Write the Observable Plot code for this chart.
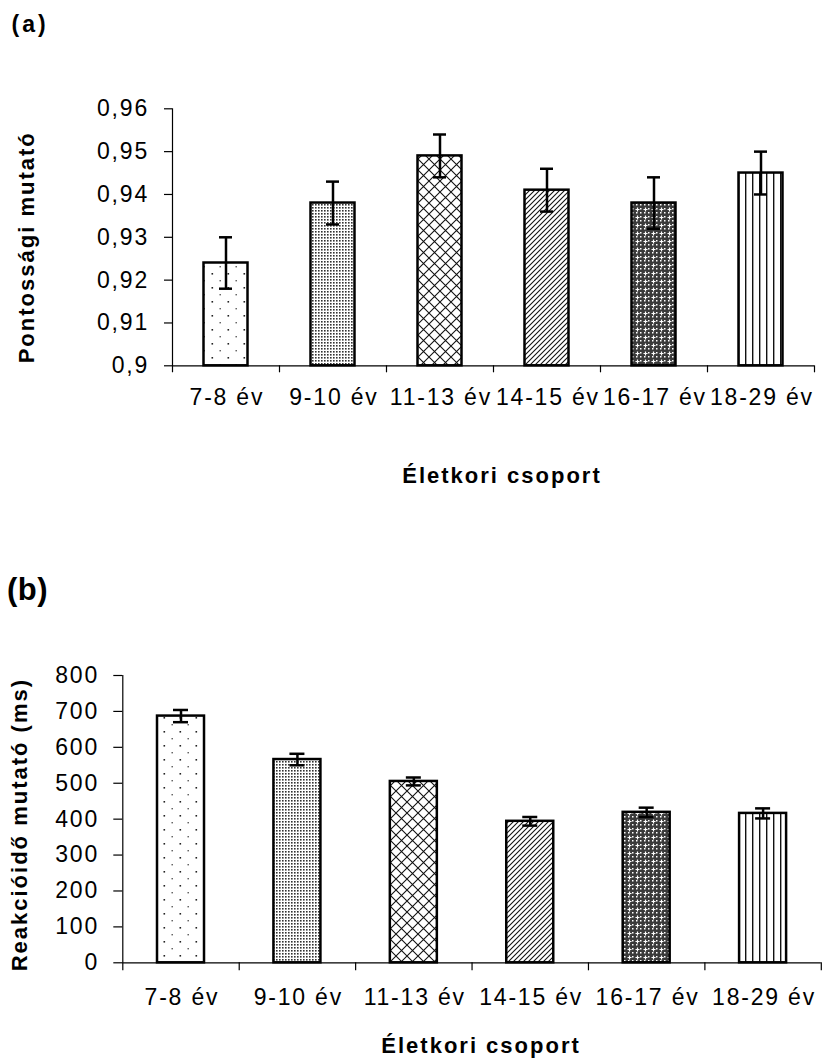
<!DOCTYPE html>
<html><head><meta charset="utf-8">
<script src="https://cdn.jsdelivr.net/npm/d3@7"></script>
<script src="https://cdn.jsdelivr.net/npm/@observablehq/plot@0.6"></script>
<style>
html,body{margin:0;padding:0;background:#fff;}
#wrap{position:relative;width:822px;height:1061px;overflow:hidden;font-family:"Liberation Sans",Arial,sans-serif;background:#fff;}
.panel{position:absolute;font-weight:bold;color:#000;line-height:1;white-space:nowrap;}
#chartA{position:absolute;left:0;top:60px;}
#chartB{position:absolute;left:0;top:560px;}
#chartA svg text,#chartB svg text{letter-spacing:1.8px;}
#chartA svg g[aria-label="text"] text,#chartB svg g[aria-label="text"] text{letter-spacing:2px;}
</style>
</head><body>
<svg width="0" height="0" style="position:absolute;left:0;top:0">
<defs>
<pattern id="p-dots" patternUnits="userSpaceOnUse" width="16" height="14">
 <rect width="16" height="14" fill="#fff"/>
 <rect x="3.5" y="3" width="1.6" height="1.6" fill="#222"/>
 <rect x="11.5" y="10" width="1.4" height="1.4" fill="#555"/>
</pattern>
<pattern id="p-fine" patternUnits="userSpaceOnUse" width="3" height="3">
 <rect width="3" height="3" fill="#fff"/>
 <rect width="1.6" height="1.6" fill="#333"/>
</pattern>
<pattern id="p-lattice" patternUnits="userSpaceOnUse" width="11" height="11">
 <rect width="11" height="11" fill="#fff"/>
 <path d="M0,0L11,11M11,0L0,11" stroke="#111" stroke-width="1.1"/>
</pattern>
<pattern id="p-diag" patternUnits="userSpaceOnUse" width="5" height="5">
 <rect width="5" height="5" fill="#fff"/>
 <path d="M-1,1L1,-1M0,5L5,0M4,6L6,4" stroke="#111" stroke-width="1.1"/>
</pattern>
<pattern id="p-dark" patternUnits="userSpaceOnUse" width="8" height="8">
 <rect width="8" height="8" fill="#3a3a3a"/>
 <rect x="0" y="0" width="1.5" height="1.5" fill="#fff"/>
 <rect x="4" y="0" width="1.5" height="1.5" fill="#fff"/>
 <rect x="0" y="4" width="1.5" height="1.5" fill="#fff"/>
 <path d="M5.5,3.5v4M3.5,5.5h4" stroke="#fff" stroke-width="1.2"/>
</pattern>
<pattern id="p-vert" patternUnits="userSpaceOnUse" width="7" height="10">
 <rect width="7" height="10" fill="#fff"/>
 <rect x="3" width="1.4" height="10" fill="#111"/>
</pattern>
</defs>
</svg>
<div id="wrap">
  <div class="panel" style="left:11.5px;top:12.5px;font-size:23px;letter-spacing:3px;">(a)</div>
  <div id="chartA"></div>
  <div class="panel" style="left:7px;top:574px;font-size:31px;letter-spacing:0.5px;">(b)</div>
  <div id="chartB"></div>
</div>
<script>
// ---- data ----
const groups = ["7-8 év", "9-10 év", "11-13 év", "14-15 év", "16-17 év", "18-29 év"];
const accuracy = [0.924, 0.938, 0.949, 0.941, 0.938, 0.945];
const accuracyErr = [0.006, 0.005, 0.005, 0.005, 0.006, 0.005];
const reaction = [687, 566, 505, 394, 419, 416];
const reactionErr = [17, 16, 11, 12, 13, 14];
const accTicks = [0.9, 0.91, 0.92, 0.93, 0.94, 0.95, 0.96];
const accTickLabels = ["0,9", "0,91", "0,92", "0,93", "0,94", "0,95", "0,96"];
const rtTicks = [0, 100, 200, 300, 400, 500, 600, 700, 800];
const xTitle = "Életkori csoport";
const accTitle = "Pontossági mutató";
const rtTitle = "Reakcióidő mutató (ms)";

// ---- styling ----
const patternIds = ["p-dots", "p-fine", "p-lattice", "p-diag", "p-dark", "p-vert"];
const FONT = '"Liberation Sans", Arial, sans-serif';

function panel(o) {
  const W = 822;
  const step = (W - o.ml - o.mr) / groups.length;
  const frameH = o.height - o.mt - o.mb;
  const inset = (step - o.barW) / 2;
  const capInset = (step - o.capW) / 2;
  const data = groups.map((g, i) => ({
    g, v: o.values[i], lo: o.values[i] - o.errs[i], hi: o.values[i] + o.errs[i],
    fill: `url(#${patternIds[i]})`
  }));
  return Plot.plot({
    width: W, height: o.height,
    marginTop: o.mt, marginBottom: o.mb, marginLeft: o.ml, marginRight: o.mr,
    style: {fontFamily: FONT, fontSize: "23px", color: "#000", background: "transparent", overflow: "visible"},
    x: {domain: groups, padding: 0, round: false},
    y: {domain: o.domain},
    color: {type: "identity"},
    marks: [
      Plot.ruleY([o.base], {stroke: "#000", strokeWidth: 1.2}),
      Plot.tickX([groups[0]], {x: d => d, dx: -step / 2, stroke: "#000", strokeWidth: 1.2, insetBottom: -o.xtick}),
      Plot.tickX(groups, {x: d => d, dx: step / 2, stroke: "#000", strokeWidth: 1.2, insetTop: frameH, insetBottom: -o.xtick}),
      Plot.barY(data, {x: "g", y1: () => o.base, y2: "v", fill: "fill", stroke: "#000", strokeWidth: 2.5, insetLeft: inset, insetRight: inset}),
      Plot.ruleX(data, {x: "g", y1: "lo", y2: "hi", stroke: "#000", strokeWidth: 2.5}),
      Plot.tickY(data, {x: "g", y: "hi", stroke: "#000", strokeWidth: 2.5, insetLeft: capInset, insetRight: capInset}),
      Plot.tickY(data, {x: "g", y: "lo", stroke: "#000", strokeWidth: 2.5, insetLeft: capInset, insetRight: capInset}),
      Plot.axisY({ticks: o.ticks, tickFormat: o.tickFormat, tickSize: o.ytick, tickPadding: o.ypad, fontSize: 23, label: null, stroke: "#000", strokeWidth: 1.2}),
      Plot.axisX({tickSize: 0, tickPadding: o.xpad, fontSize: 23, label: null, dx: 0.9}),
      Plot.text([xTitle], {frameAnchor: "bottom", textAnchor: "middle", lineAnchor: "top", dx: o.titleDx, dy: o.titleDy, fontWeight: "bold", fontSize: 22, fill: "#000"}),
      Plot.text([o.yTitle], {frameAnchor: "left", textAnchor: "middle", rotate: -90, dx: o.yTitleDx, dy: o.yTitleDy, fontWeight: "bold", fontSize: 22, fill: "#000"})
    ]
  });
}

document.getElementById("chartA").append(panel({
  values: accuracy, errs: accuracyErr, base: accTicks[0], domain: [accTicks[0], accTicks[accTicks.length - 1]],
  ticks: accTicks, tickFormat: d => accTickLabels[accTicks.indexOf(d)] ?? String(d).replace(".", ","),
  yTitle: accTitle,
  height: 440, mt: 48.3, mb: 134.7, ml: 172, mr: 8,
  barW: 44, capW: 13, ytick: 8, ypad: 15.5, xpad: 22.4, xtick: 7,
  titleDx: 8.5, titleDy: 102, yTitleDx: -145.5, yTitleDy: 10
}));

document.getElementById("chartB").append(panel({
  values: reaction, errs: reactionErr, base: rtTicks[0], domain: [rtTicks[0], rtTicks[rtTicks.length - 1]],
  ticks: rtTicks, tickFormat: d => String(d),
  yTitle: rtTitle,
  height: 501, mt: 115, mb: 98.7, ml: 122.3, mr: 1.2,
  barW: 47, capW: 15, ytick: 9, ypad: 14.8, xpad: 26, xtick: 8,
  titleDx: 9, titleDy: 75, yTitleDx: -102.6, yTitleDy: 5.5
}));
</script>
</body></html>
